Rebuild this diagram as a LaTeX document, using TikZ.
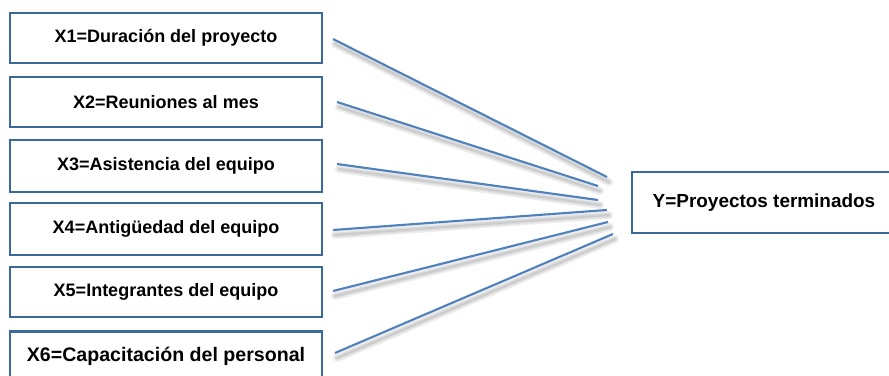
\documentclass[tikz,border=0pt]{standalone}
\usepackage{fontspec}
\setmainfont{Liberation Sans}
\definecolor{boxblue}{HTML}{3A6A9C}
\definecolor{lineblue}{HTML}{4F81BD}
\tikzset{
  xbox/.style={draw=boxblue, line width=2pt, fill=white, rectangle, inner sep=0pt,
    font=\bfseries\fontsize{13.5}{16}\selectfont},
  link/.style={draw=lineblue, line width=1.6pt},
  linkshadow/.style={draw=black, line width=#1, opacity=0.07, line cap=round},
}
\begin{document}
\begin{tikzpicture}[x=0.75pt, y=-0.75pt]
\useasboundingbox (0,0) rectangle (889,375);
\begin{scope}
\clip (0,0) rectangle (889,375);
% boxes
\node[xbox, minimum width=312*0.75pt, minimum height=50*0.75pt] (x1) at (166,38) {X1=Duración del proyecto};
\node[xbox, minimum width=312*0.75pt, minimum height=50*0.75pt] (x2) at (166,102) {X2=Reuniones al mes};
\node[xbox, minimum width=312*0.75pt, minimum height=52*0.75pt] (x3) at (166,166) {X3=Asistencia del equipo};
\node[xbox, minimum width=312*0.75pt, minimum height=52*0.75pt] (x4) at (166,229) {X4=Antigüedad del equipo};
\node[xbox, minimum width=312*0.75pt, minimum height=50*0.75pt] (x5) at (166,292) {X5=Integrantes del equipo};
\node[xbox, minimum width=312*0.75pt, minimum height=50*0.75pt, anchor=north, font=\bfseries\fontsize{14.7}{17}\selectfont] (x6) at (166,330) {\raisebox{-2pt}{X6=Capacitación del personal}};
\node[xbox, minimum width=264*0.75pt, minimum height=61*0.75pt, font=\bfseries\fontsize{14.2}{17}\selectfont] (y) at (764,202.5) {Y=Proyectos terminados};
\end{scope}
% connector end points
\coordinate (s1) at (333,39);  \coordinate (e1) at (607,177);
\coordinate (s2) at (337,102); \coordinate (e2) at (598,186);
\coordinate (s3) at (337,164); \coordinate (e3) at (598,200);
\coordinate (s4) at (333,230); \coordinate (e4) at (607,210);
\coordinate (s5) at (333,291); \coordinate (e5) at (608,222);
\coordinate (s6) at (335,353); \coordinate (e6) at (613,234);
% shadows
\foreach \i in {1,...,6}{
  \draw[linkshadow=6pt] ([shift={(2,5)}]s\i) -- ([shift={(2,5)}]e\i);
  \draw[linkshadow=3.5pt] ([shift={(2,5)}]s\i) -- ([shift={(2,5)}]e\i);
  \draw[linkshadow=1.5pt] ([shift={(2,5)}]s\i) -- ([shift={(2,5)}]e\i);
}
% connectors
\foreach \i in {1,...,6}{
  \draw[link] (s\i) -- (e\i);
}
\end{tikzpicture}
\end{document}
